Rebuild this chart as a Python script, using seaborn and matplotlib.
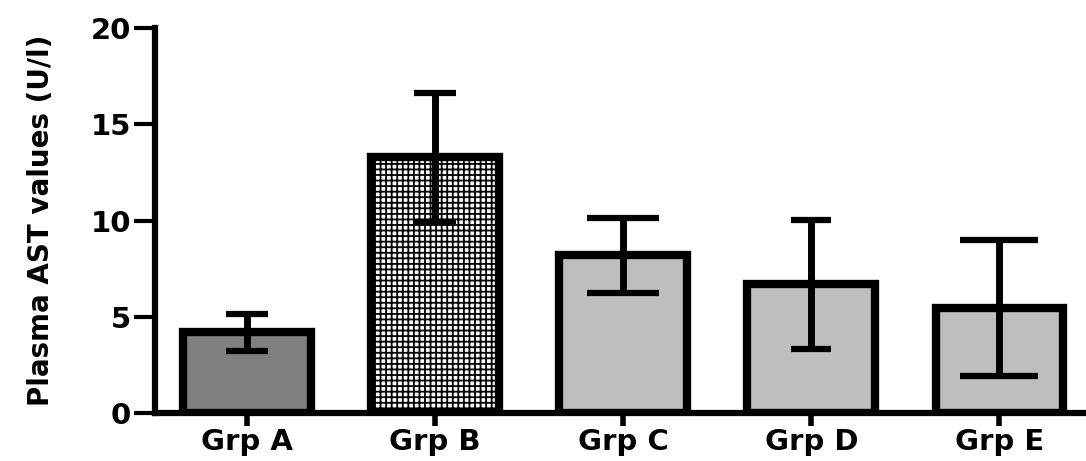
import matplotlib
matplotlib.use("Agg")
import matplotlib.pyplot as plt
import seaborn as sns
import numpy as np

# Group means and standard deviations of plasma AST (U/l)
groups = ["Grp A", "Grp B", "Grp C", "Grp D", "Grp E"]
means = [4.2, 13.3, 8.2, 6.7, 5.45]
sds = [0.96, 3.35, 1.96, 3.35, 3.55]
fills = ["#808080", "#ffffff", "#bebebe", "#bebebe", "#bebebe"]
cap_sizes = [15, 15, 26, 14.5, 28]
y_ticks = [0, 5, 10, 15, 20]

sns.set_style("ticks")
plt.rcParams["font.family"] = ["DejaVu Sans"]
plt.rcParams["hatch.linewidth"] = 1.3
plt.rcParams["text.color"] = "black"
plt.rcParams["axes.labelcolor"] = "black"
plt.rcParams["xtick.color"] = "black"
plt.rcParams["ytick.color"] = "black"

fig = plt.figure(figsize=(10.86, 4.61), dpi=100)
ax = fig.add_axes([0.1427, 0.104, 0.8573, 0.835])

sns.barplot(x=groups, y=means, hue=groups, palette=fills, legend=False,
            width=0.68, edgecolor="black", linewidth=6, ax=ax, zorder=2)

# dense cross-hatch on the second group's bar
ax.patches[1].set_hatch("+++")

for i, (m, s, cs) in enumerate(zip(means, sds, cap_sizes)):
    ax.errorbar(x=[i], y=[m], yerr=[s], fmt="none", ecolor="black",
                elinewidth=5, capsize=cs, capthick=4.5, zorder=3)

ax.set_ylim(0, 20)
ax.set_xlim(-0.49, 4.46)
ax.set_yticks(y_ticks)
ax.set_yticklabels([str(v) for v in y_ticks])
ax.set_ylabel("Plasma AST values (U/l)", fontsize=20, fontweight="bold",
              labelpad=26, color="black")
ax.set_xlabel("")

for lab in ax.get_xticklabels() + ax.get_yticklabels():
    lab.set_fontweight("bold")
    lab.set_fontsize(21)
    lab.set_color("black")

ax.tick_params(axis="y", length=15, width=3, pad=2)
ax.tick_params(axis="x", length=9, width=4, pad=2)

sns.despine(ax=ax)
for side in ("left", "bottom"):
    ax.spines[side].set_linewidth(4.5)
    ax.spines[side].set_color("black")

fig.savefig("out.png", dpi=100)
